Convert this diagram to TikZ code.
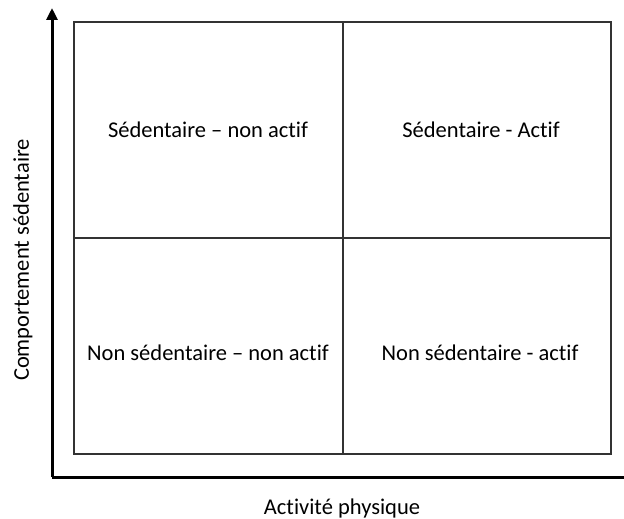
\documentclass[tikz,border=0pt]{standalone}
\usepackage{fontspec}
\setmainfont[Ligatures=NoCommon]{Carlito}
\usetikzlibrary{arrows.meta}
\begin{document}
\begin{tikzpicture}[x=1pt,y=-1pt,
  grid/.style={draw=black!80,line width=1.5pt},
  axis/.style={draw=black,line width=3pt},
  lbl/.style={font=\fontsize{22.5}{27}\selectfont,inner sep=0pt}]
\useasboundingbox (0,0) rectangle (624,519);
\coordinate (tl) at (74,22);
\coordinate (br) at (611,454);
\coordinate (mt) at (343,22);
\coordinate (mb) at (343,454);
\coordinate (ml) at (74,238);
\coordinate (mr) at (611,238);
\draw[grid] (tl) rectangle (br);
\draw[grid] (mt) -- (mb);
\draw[grid] (ml) -- (mr);
\coordinate (o) at (52,477);
\coordinate (ytop) at (52,8);
\coordinate (xend) at (624,477);
\draw[axis,-{Triangle[length=12pt,width=11pt]}] (o) -- (ytop);
\draw[axis] (o) -- (xend);
\node[lbl] (a) at (208,130) {Sédentaire – non actif};
\node[lbl] (b) at (481,130) {Sédentaire - Actif};
\node[lbl] (c) at (208,353) {Non sédentaire – non actif};
\node[lbl] (d) at (480,353) {Non sédentaire - actif};
\node[lbl,rotate=90] (yl) at (23,260) {Comportement sédentaire};
\node[lbl] (xl) at (342,508) {Activité physique};
\end{tikzpicture}
\end{document}
